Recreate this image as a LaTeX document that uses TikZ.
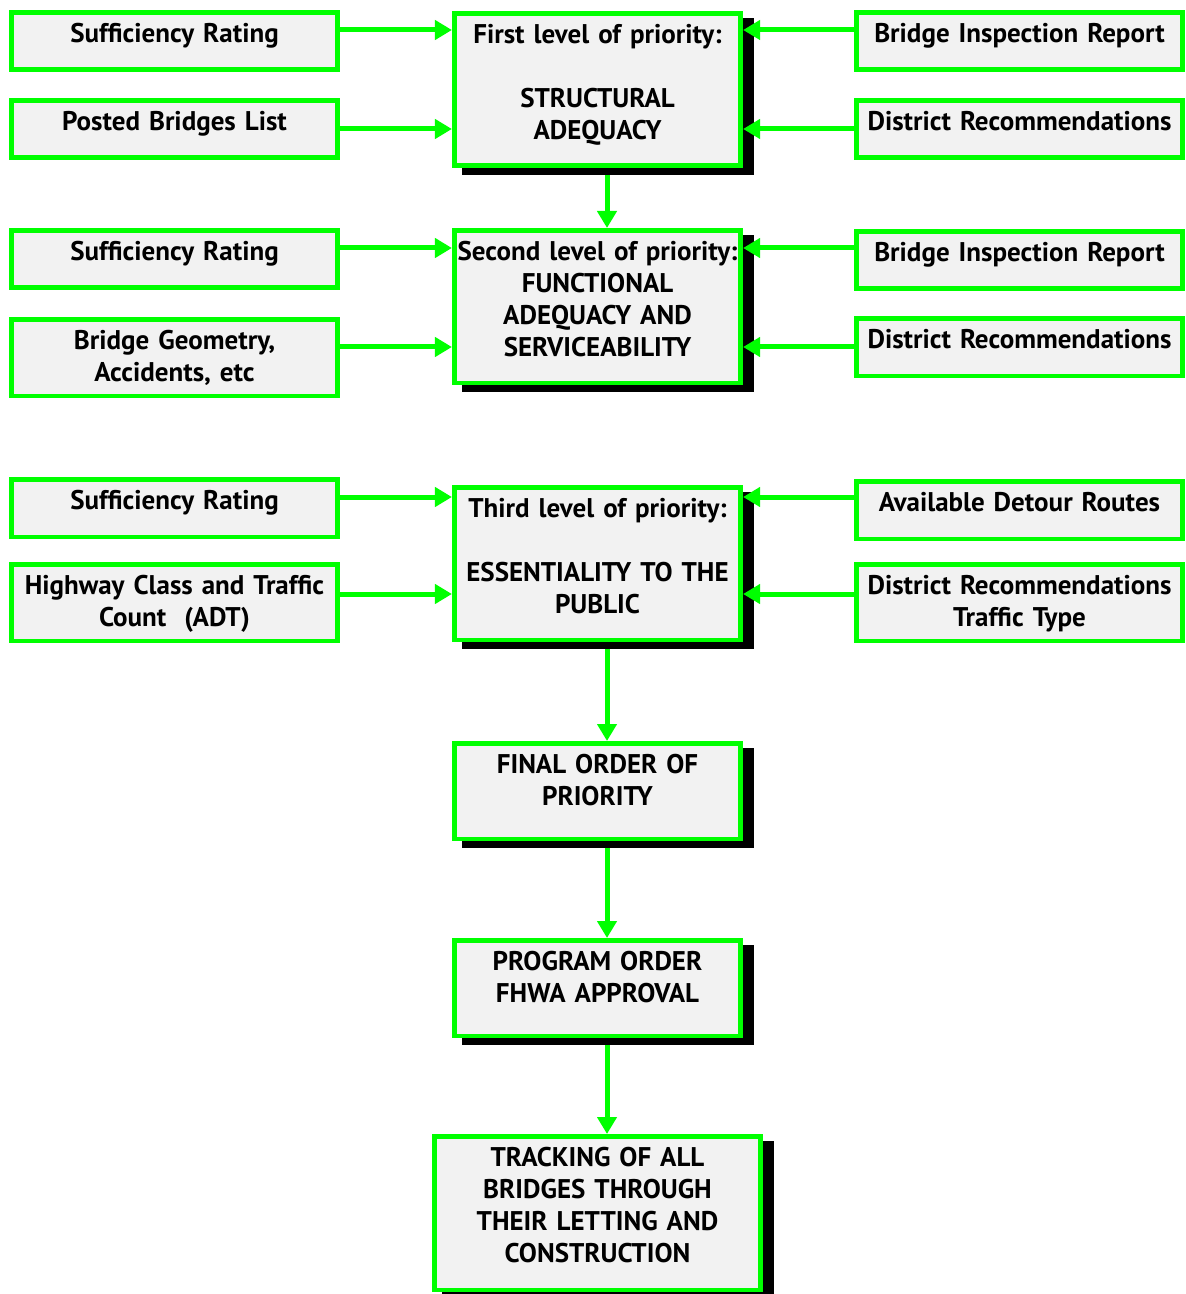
\documentclass[tikz,border=0pt]{standalone}
\usepackage{fontspec}
\setmainfont{PT Sans}
\usepackage{xcolor}
\usepackage{tikz}
\usetikzlibrary{arrows.meta, positioning, shadows}
\definecolor{boxgreen}{RGB}{0,255,0}
\definecolor{boxfill}{RGB}{242,242,242}
\tikzstyle{arrow} = [line width=2.5pt, draw=boxgreen, -{Triangle[length=8.5pt,width=9.5pt]}]

\begin{document}
\begin{tikzpicture}[
    x=0.5pt, y=-0.5pt,
    font=\fontsize{13.5}{16}\selectfont\bfseries,
    block/.style={rectangle, draw=boxgreen, line width=2.3pt, fill=boxfill, anchor=north, inner xsep=1pt, inner ysep=0pt, text height=14.9pt, align=center},
    side/.style={block, minimum width=163.25pt, text width=161pt, text depth=13.85pt},
    sidetwo/.style={side, text depth=23.35pt},
    shade/.style={drop shadow={fill=black, draw=black, line width=2.3pt, opacity=1, shadow xshift=5.25pt, shadow yshift=-3.5pt}},
    prio/.style={block, shade, minimum width=143.25pt, text width=141pt, text depth=61.35pt},
    stage/.style={prio, text depth=32.85pt},
    track/.style={block, shade, minimum width=163.25pt, text width=161pt, text depth=61.85pt}
]
\useasboundingbox (0,0) rectangle (1186,1294);

% Left inputs
\foreach \n/\y in {1/10, 2/228, 3/477}
    \node[side] (suff\n) at (174.5,\y) {Sufficiency Rating};
\node[side] (posted) at (174.5,98) {Posted Bridges List};
\node[sidetwo] (geom) at (174.5,317) {Bridge Geometry,\\Accidents, etc};
\node[sidetwo] (hwy) at (174.5,562) {Highway Class and Traffic\\Count\ \ (ADT)};

% Right inputs
\node[side] (insp1) at (1019.5,10) {Bridge Inspection Report};
\node[side] (dist1) at (1019.5,98) {District Recommendations};
\node[side] (insp2) at (1019.5,229) {Bridge Inspection Report};
\node[side] (dist2) at (1019.5,316) {District Recommendations};
\node[side] (detour) at (1019.5,479) {Available Detour Routes};
\node[sidetwo] (dist3) at (1019.5,562) {District Recommendations\\Traffic Type};

% Priority levels
\node[prio] (level1) at (597.5,11) {First level of priority:\\[16pt]STRUCTURAL\\ADEQUACY};
\node[prio] (level2) at (597.5,228) {Second level of priority:\\FUNCTIONAL\\ADEQUACY AND\\SERVICEABILITY};
\node[prio] (level3) at (597.5,485) {Third level of priority:\\[16pt]ESSENTIALITY TO THE\\PUBLIC};
\node[stage] (final) at (597.5,741) {FINAL ORDER OF\\PRIORITY};
\node[stage] (program) at (597.5,938) {PROGRAM ORDER\\FHWA APPROVAL};
\node[track] (tracking) at (597.5,1134) {TRACKING OF ALL\\BRIDGES THROUGH\\THEIR LETTING AND\\CONSTRUCTION};

% Draw arrows
\foreach \src/\dst/\r in {suff1/level1/30, posted/level1/129, suff2/level2/248, geom/level2/347, suff3/level3/497, hwy/level3/594}
    \draw[arrow] (\src.east |- 0,\r) -- (\dst.west |- 0,\r);
\foreach \src/\dst/\r in {insp1/level1/30, dist1/level1/129, insp2/level2/248, dist2/level2/347, detour/level3/497, dist3/level3/594}
    \draw[arrow] (\src.west |- 0,\r) -- (\dst.east |- 0,\r);

\draw[arrow] ([xshift=4.75pt,yshift=-3.5pt]level1.south) -- ([xshift=4.75pt]level2.north);
\draw[arrow] ([xshift=4.75pt,yshift=-3.5pt]level3.south) -- ([xshift=4.75pt]final.north);
\draw[arrow] ([xshift=4.75pt,yshift=-3.5pt]final.south) -- ([xshift=4.75pt]program.north);
\draw[arrow] ([xshift=4.75pt,yshift=-3.5pt]program.south) -- ([xshift=4.75pt]tracking.north);

\end{tikzpicture}
\end{document}
